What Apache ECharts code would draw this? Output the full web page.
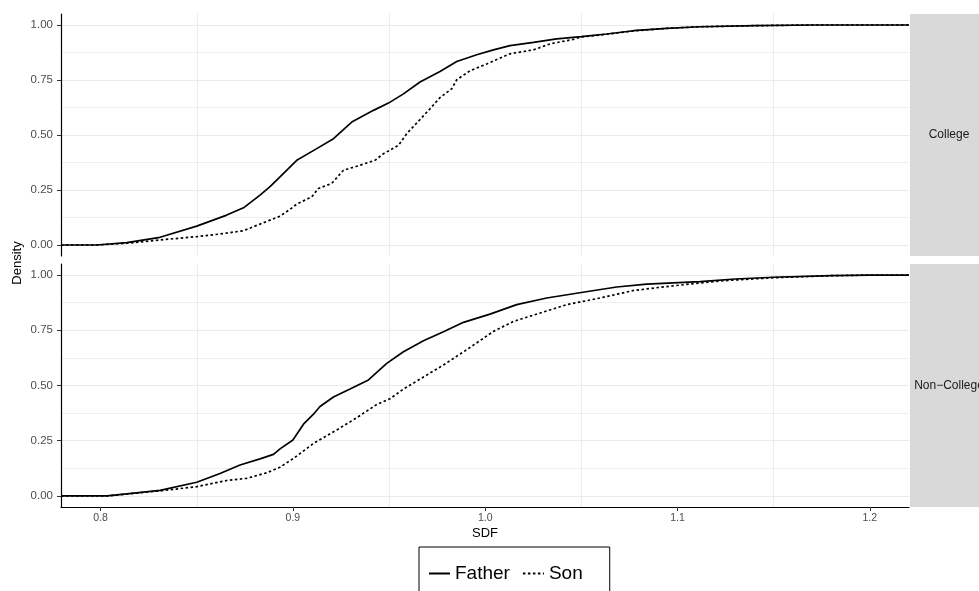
<!DOCTYPE html>
<html>
<head>
<meta charset="utf-8">
<script src="https://cdn.jsdelivr.net/npm/echarts@6/dist/echarts.min.js"></script>
<style>
  html, body { margin: 0; padding: 0; background: #ffffff; }
  #chart { width: 979px; height: 591px; }
</style>
</head>
<body>
<div id="chart"></div>
<script>
// Facet labels and axis breaks
const panels = ['College', 'Non\u2212College'];
const xTicks = [0.8, 0.9, 1.0, 1.1, 1.2];
const xGridLines = [0.85, 0.95, 1.05, 1.15];
const yTicks = [0, 0.25, 0.5, 0.75, 1];
const yMinorLines = [0.125, 0.375, 0.625, 0.875];

// Empirical CDF of SDF, College panel
const collegeFatherX = [0.7794, 0.798, 0.8136, 0.8309, 0.85, 0.8656, 0.8743, 0.8829, 0.8881, 0.8933, 0.902, 0.9124, 0.9211, 0.9306, 0.9419, 0.9497, 0.9575, 0.9661, 0.9765, 0.9852, 0.9956, 1.0043, 1.0129, 1.0251, 1.0372, 1.05, 1.0632, 1.0771, 1.0944, 1.1117, 1.14, 1.17, 1.2204];
const collegeFatherY = [0, 0, 0.011, 0.035, 0.086, 0.136, 0.169, 0.227, 0.265, 0.31, 0.385, 0.438, 0.483, 0.559, 0.612, 0.645, 0.687, 0.741, 0.789, 0.834, 0.865, 0.887, 0.906, 0.921, 0.937, 0.947, 0.959, 0.974, 0.985, 0.992, 0.997, 1, 1];
const collegeSonX = [0.7794, 0.798, 0.8136, 0.8309, 0.85, 0.8621, 0.8743, 0.8829, 0.8881, 0.8933, 0.8985, 0.902, 0.9098, 0.9133, 0.9202, 0.9263, 0.9332, 0.9427, 0.9471, 0.9549, 0.9592, 0.965, 0.9713, 0.9765, 0.9826, 0.9852, 0.9921, 1.0008, 1.0129, 1.0251, 1.0337, 1.0459, 1.05, 1.0632, 1.0771, 1.0944, 1.1117, 1.14, 1.17, 1.2204];
const collegeSonY = [0, 0, 0.008, 0.023, 0.038, 0.05, 0.065, 0.095, 0.113, 0.131, 0.162, 0.186, 0.219, 0.257, 0.28, 0.34, 0.358, 0.385, 0.415, 0.453, 0.506, 0.56, 0.619, 0.67, 0.71, 0.751, 0.792, 0.823, 0.869, 0.887, 0.914, 0.935, 0.946, 0.958, 0.973, 0.985, 0.992, 0.997, 1, 1];

// Empirical CDF of SDF, Non-College panel
const nonCollegeFatherX = [0.7794, 0.8032, 0.8136, 0.8309, 0.85, 0.8621, 0.8725, 0.8829, 0.8899, 0.8933, 0.9, 0.9055, 0.9107, 0.9141, 0.9211, 0.9297, 0.9393, 0.9488, 0.9575, 0.9679, 0.9783, 0.9887, 1.0025, 1.0164, 1.032, 1.05, 1.0684, 1.084, 1.1117, 1.13, 1.15, 1.18, 1.2, 1.2204];
const nonCollegeFatherY = [0, 0, 0.009, 0.025, 0.062, 0.102, 0.14, 0.168, 0.188, 0.213, 0.253, 0.325, 0.37, 0.405, 0.448, 0.484, 0.525, 0.6, 0.653, 0.703, 0.743, 0.786, 0.823, 0.866, 0.896, 0.921, 0.946, 0.959, 0.97, 0.982, 0.99, 0.997, 1, 1];
const nonCollegeSonX = [0.7794, 0.8032, 0.8136, 0.8309, 0.85, 0.8656, 0.876, 0.8864, 0.8933, 0.9003, 0.9107, 0.9228, 0.9332, 0.9436, 0.9505, 0.9575, 0.9644, 0.9783, 0.9904, 1.0043, 1.0147, 1.0286, 1.0424, 1.0597, 1.0771, 1.0944, 1.1117, 1.125, 1.15, 1.18, 1.2, 1.2204];
const nonCollegeSonY = [0, 0, 0.009, 0.023, 0.042, 0.07, 0.08, 0.105, 0.13, 0.17, 0.238, 0.299, 0.354, 0.414, 0.44, 0.484, 0.52, 0.593, 0.662, 0.745, 0.79, 0.828, 0.866, 0.896, 0.93, 0.948, 0.964, 0.975, 0.988, 0.997, 1, 1];

const X_MIN = 0.7794, X_MAX = 1.2204;
const FONT = '"Liberation Sans", Arial, Helvetica, sans-serif';
const GRID_COLOR = '#ebebeb';

function pairs(xs, ys) { return xs.map((x, i) => [x, ys[i]]); }

const gridBoxes = [
  { left: 61, top: 14, width: 848, height: 242 },
  { left: 61, top: 264, width: 848, height: 243 }
];

const xAxes = [];
const yAxes = [];
gridBoxes.forEach((g, gi) => {
  const isBottom = gi === 1;
  // main x axis
  xAxes.push({
    type: 'value', gridIndex: gi, min: X_MIN, max: X_MAX,
    axisLine: { show: isBottom, onZero: false, lineStyle: { color: '#000', width: 1.2 } },
    axisTick: { show: isBottom, customValues: xTicks, length: 4, lineStyle: { color: '#333', width: 1 } },
    axisLabel: {
      show: isBottom, customValues: xTicks, margin: 6,
      formatter: v => v.toFixed(1), color: '#4d4d4d', fontSize: 10.5, fontFamily: FONT
    },
    splitLine: { show: false },
    name: isBottom ? 'SDF' : '', nameLocation: 'middle', nameGap: 20,
    nameTextStyle: { color: '#000', fontSize: 13, fontFamily: FONT }
  });
  // x axis carrying only the vertical grid lines
  xAxes.push({
    type: 'value', gridIndex: gi, min: X_MIN, max: X_MAX,
    axisLine: { show: false }, axisLabel: { show: false },
    axisTick: { show: false, customValues: xGridLines },
    splitLine: { show: true, lineStyle: { color: GRID_COLOR, width: 1.1 } }
  });
  // main y axis with major grid lines
  yAxes.push({
    type: 'value', gridIndex: gi, min: -0.05, max: 1.05,
    axisLine: { show: true, onZero: false, lineStyle: { color: '#000', width: 1.2 } },
    axisTick: { show: true, customValues: yTicks, length: 4, lineStyle: { color: '#333', width: 1 } },
    axisLabel: {
      customValues: yTicks, margin: 8,
      formatter: v => v.toFixed(2), color: '#4d4d4d', fontSize: 11.5, fontFamily: FONT
    },
    splitLine: { show: true, lineStyle: { color: GRID_COLOR, width: 1.2 } }
  });
  // y axis carrying only the minor grid lines
  yAxes.push({
    type: 'value', gridIndex: gi, min: -0.05, max: 1.05,
    axisLine: { show: false }, axisLabel: { show: false },
    axisTick: { show: false, customValues: yMinorLines },
    splitLine: { show: true, lineStyle: { color: GRID_COLOR, width: 0.8 } }
  });
});

const solid = { color: '#000', width: 1.7, type: 'solid' };
const dotted = { color: '#000', width: 1.7, type: [2.5, 2.5] };

function curve(name, gi, xs, ys, style) {
  return {
    type: 'line', name: name, xAxisIndex: gi * 2, yAxisIndex: gi * 2,
    data: pairs(xs, ys), symbol: 'none', showSymbol: false, smooth: false,
    lineStyle: style, itemStyle: { color: '#000' }, z: 3, silent: true
  };
}

const series = [
  curve('Father', 0, collegeFatherX, collegeFatherY, solid),
  curve('Son', 0, collegeSonX, collegeSonY, dotted),
  curve('Father', 1, nonCollegeFatherX, nonCollegeFatherY, solid),
  curve('Son', 1, nonCollegeSonX, nonCollegeSonY, dotted)
];

// facet strips on the right and the shared y axis title
const graphics = [];
gridBoxes.forEach((g, gi) => {
  graphics.push({
    type: 'rect', left: 910, top: g.top,
    shape: { width: 80, height: g.height },
    style: { fill: '#d9d9d9' }, silent: true
  });
  graphics.push({
    type: 'text', x: 949, y: g.top + g.height / 2,
    style: {
      text: panels[gi], fill: '#1a1a1a', fontSize: 12, fontFamily: FONT,
      align: 'center', verticalAlign: 'middle'
    }, silent: true
  });
});
graphics.push({
  type: 'text', x: 17, y: 263, rotation: Math.PI / 2,
  style: {
    text: 'Density', fill: '#000', fontSize: 13, fontFamily: FONT,
    align: 'center', verticalAlign: 'middle'
  }, silent: true
});

const chart = echarts.init(document.getElementById('chart'), null, { renderer: 'canvas' });
chart.setOption({
  animation: false,
  backgroundColor: '#ffffff',
  textStyle: { fontFamily: FONT },
  grid: gridBoxes.map(g => Object.assign({ containLabel: false }, g)),
  xAxis: xAxes,
  yAxis: yAxes,
  legend: {
    data: ['Father', 'Son'],
    left: 419, top: 547, orient: 'horizontal',
    padding: [17, 27, 22, 9],
    itemWidth: 21, itemHeight: 14, itemGap: 12,
    borderColor: '#000', borderWidth: 1, borderRadius: 0,
    backgroundColor: '#fff',
    itemStyle: { opacity: 0 },
    textStyle: { color: '#000', fontSize: 19, fontFamily: FONT },
    selectedMode: false
  },
  series: series,
  graphic: graphics
});
</script>
</body>
</html>
